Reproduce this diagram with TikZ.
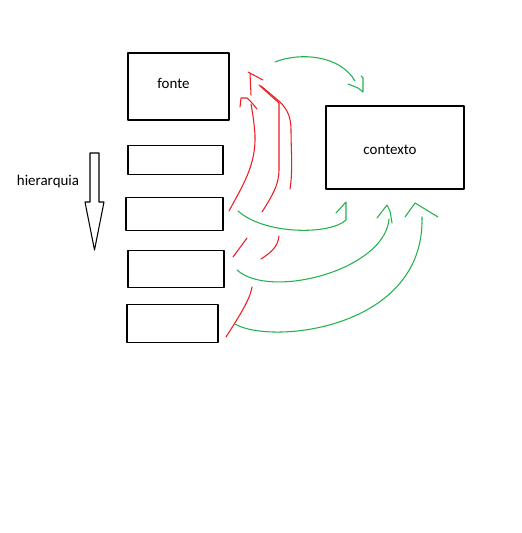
\documentclass[tikz,border=0pt]{standalone}
\usepackage{fontspec}
\setmainfont{Carlito}
\usetikzlibrary{positioning}
\definecolor{corVermelha}{RGB}{237,28,36}
\definecolor{corVerde}{RGB}{34,177,76}

\begin{document}
\begin{tikzpicture}[x=0.02cm,y=-0.02cm,line width=0.6pt,line cap=round,line join=round,
  every node/.style={font=\fontsize{8.5}{10}\selectfont},
  caixa/.style={draw,inner sep=0pt},
  verm/.style={draw=corVermelha},
  verde/.style={draw=corVerde}]
\useasboundingbox[fill=white] (0,0) rectangle (521,533);
\node[caixa,minimum width=2.02cm,minimum height=1.34cm] (fonte) at (178.5,86.5) {};
\node[caixa,minimum width=1.90cm,minimum height=0.58cm,below=0.48cm of fonte.south west,anchor=north west] (n2) {};
\node[caixa,minimum width=1.94cm,minimum height=0.66cm,below=0.44cm of n2.south west,anchor=north west,xshift=-0.04cm] (n3) {};
\node[caixa,minimum width=1.92cm,minimum height=0.74cm,below=0.38cm of n3.south west,anchor=north west,xshift=0.04cm] (n4) {};
\node[caixa,minimum width=1.82cm,minimum height=0.76cm,below=0.32cm of n4.south west,anchor=north west,xshift=-0.02cm] (n5) {};
\node[caixa,minimum width=2.76cm,minimum height=1.66cm] (contexto) at (395,147.5) {};
\node[xshift=-0.1cm,yshift=0.06cm] at (fonte) {fonte};
\node[xshift=-0.1cm,yshift=-0.05cm] at (contexto) {contexto};

\coordinate (hb) at (94.5,153);
\coordinate (hp) at (94.5,250);
\draw (hb) ++(-4.5,0) -- ++(9,0) -- ++(0,49) -- ++(5,0) -- (hp) -- ++(-9.5,-48) -- ++(5,0) -- cycle;
\node at (48,182) {hierarquia};

\coordinate (v1i) at (229,211); \coordinate (v1f) at (251,104);
\coordinate (v2i) at (262,212); \coordinate (v2f) at (259,85);
\coordinate (v3i) at (290,189);
\draw[verm] (v1i) .. controls (243,185) and (256,165) .. (255,135) .. controls (254,120) and (252,110) .. (v1f);
\draw[verm] (240,107) -- (241,98) -- (247,98) -- (252,103) -- (257,109);
\draw[verm] (251,95) -- (250,73) -- (248,72) -- (263,80);
\draw[verm] (v2i) .. controls (272,196) and (279,185) .. (279,170) -- (279,103) -- (v2f);
\draw[verm] (v3i) .. controls (293,170) and (291,150) .. (291,130) .. controls (291,118) and (288,110) .. (280,102) -- (261,86);
\draw[verm] (233,257) -- (247,238);
\draw[verm] (261,259) .. controls (272,252) and (278,246) .. (279,236);
\draw[verm] (226,337) .. controls (238,318) and (250,300) .. (252,287);

\coordinate (g0i) at (275,62);  \coordinate (g0f) at (363,92);
\coordinate (g1i) at (238,211); \coordinate (g1f) at (346,202);
\coordinate (g2i) at (237,270); \coordinate (g2f) at (387,205);
\coordinate (g3i) at (235,324); \coordinate (g3f) at (415,203);
\draw[verde] (g0i) .. controls (300,52) and (340,55) .. (355,81);
\draw[verde] (361,76) -- (363,78) -- (g0f) -- (358,88) -- (348,84);
\draw[verde] (g1i) .. controls (265,235) and (330,235) .. (346,220) -- (g1f) -- (336,213);
\draw[verde] (g2i) .. controls (270,300) and (385,270) .. (389,219);
\draw[verde] (377,218) -- (g2f) -- (390,211) -- (392,223);
\draw[verde] (g3i) .. controls (270,345) and (425,330) .. (422,217);
\draw[verde] (405,217) -- (g3f) -- (438,217);
\end{tikzpicture}
\end{document}
